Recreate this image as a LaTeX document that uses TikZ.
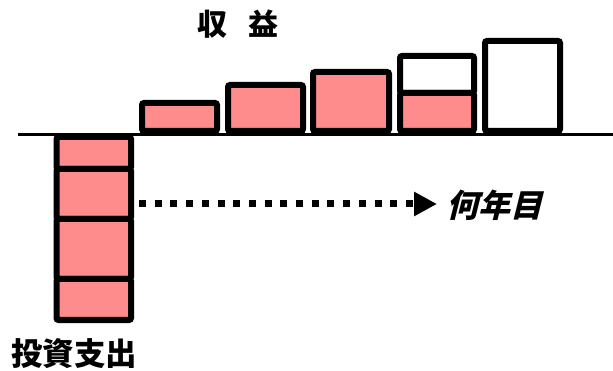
\documentclass[tikz,border=0pt]{standalone}
\usepackage{fontspec}
\usetikzlibrary{arrows.meta}
\newfontfamily\jp{Noto Sans CJK JP}
\newfontfamily\jpit[FakeSlant=0.25]{Noto Sans CJK JP}
\definecolor{barpink}{RGB}{255,140,140}
\begin{document}
\begin{tikzpicture}[x=1pt,y=-1pt,
  bar/.style={draw=black,line width=6pt,rounded corners=2pt,fill=barpink},
  emptybar/.style={draw=black,line width=6pt,rounded corners=2pt,fill=white},
  lbl/.style={inner sep=0pt,font=\jp\bfseries\fontsize{30}{30}\selectfont},
  flow/.style={line width=7pt,dash pattern=on 7pt off 8.7pt,-{Triangle[length=23pt,width=23pt]}}]
\useasboundingbox (0,0) rectangle (613,371);
% baseline
\coordinate (axisL) at (18,135);
\coordinate (axisR) at (613,135);
\draw[line width=3pt] (axisL) -- (axisR);
% revenue bars
\draw[bar] (142,131) rectangle (217,103);
\draw[bar] (228,131) rectangle (303,85);
\draw[bar] (313,131) rectangle (389,72);
\draw[emptybar] (400,93) rectangle (474,56);
\draw[bar] (400,131) rectangle (474,93);
\draw[emptybar] (485,131) rectangle (560,41);
% investment bar
\draw[bar] (56.5,137) rectangle (131,169);
\draw[bar] (56.5,169) rectangle (131,219);
\draw[bar] (56.5,219) rectangle (131,279);
\draw[bar] (56.5,279) rectangle (131,320);
% labels
\node[lbl] (rev) at (238,24) {収\hspace{0.7em}益};
\node[lbl,font=\jp\bfseries\fontsize{31.5}{31.5}\selectfont] (inv) at (74,353.5) {投資支出};
\node[lbl,font=\jpit\bfseries\fontsize{32}{32}\selectfont,anchor=west] (year) at (446,205.5) {何年目};
% arrow
\coordinate (flowstart) at (139,204);
\draw[flow] (flowstart) -- ([xshift=-9pt]year.west |- flowstart);
\end{tikzpicture}
\end{document}
